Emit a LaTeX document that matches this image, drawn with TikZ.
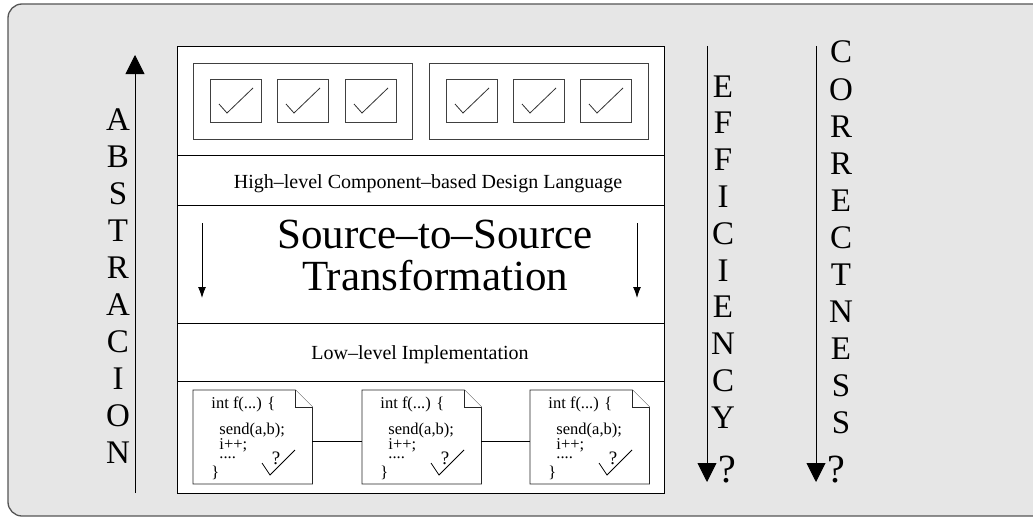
\documentclass[tikz,border=0pt]{standalone}
\usepackage{fontspec}
\setmainfont{Liberation Serif}
\usetikzlibrary{arrows.meta}
\definecolor{bgfill}{HTML}{E6E6E6}
\definecolor{framecol}{HTML}{555555}
\begin{document}
\begin{tikzpicture}[x=1pt,y=-1pt,line width=0.9pt,
  layer/.style={draw, fill=white, inner sep=0pt, anchor=north west, minimum width=487pt},
  grp/.style={draw=black!75, inner sep=0pt, anchor=north west, minimum width=219pt, minimum height=76pt},
  chk/.style={draw=black!75, inner sep=0pt, anchor=north west, minimum width=51pt, minimum height=43pt},
  docnode/.style={inner sep=0pt, anchor=north west, minimum width=118.5pt, minimum height=93pt},
  docline/.style={draw=black!85, fill=white, line width=0.8pt},
  codetxt/.style={inner sep=0pt, anchor=base west, font=\fontsize{16.5}{18}\selectfont},
  codeblock/.style={inner sep=0pt, anchor=north west, align=left, font=\fontsize{16.5}{13}\selectfont},
  letter/.style={inner sep=0pt, anchor=base, font=\fontsize{33}{37}\selectfont},
  qmark/.style={inner sep=0pt, anchor=base, font=\fontsize{40}{40}\selectfont},
  bigarrow/.style={line width=0.9pt, -{Triangle[width=19pt,length=19pt]}},
  smallarrow/.style={line width=0.9pt, -{Latex[width=8pt,length=11pt]}}
]
\useasboundingbox (0,0) rectangle (1033,519);
\clip (0,0) rectangle (1033,519);
\draw[framecol, fill=bgfill, line width=1.3pt, rounded corners=14pt] (8,4) rectangle (1060,516);

% layers of the main box
\node[layer, minimum height=109pt] (L1) at (177,46) {};
\node[layer, minimum height=50pt] (L2) at (177,155) {};
\node[layer, minimum height=118pt] (L3) at (177,205) {};
\node[layer, minimum height=58pt] (L4) at (177,323) {};
\node[layer, minimum height=112pt] (L5) at (177,381) {};

% component groups
\node[grp] (g1) at (193,63) {};
\node[grp] (g2) at (429,63) {};
\foreach \x [count=\i] in {210,277,345,446,513,580} {
  \node[chk] (c\i) at (\x,79) {};
  \draw[black!80, line width=0.8pt] ([shift={(9,25)}]c\i.north west) -- ++(8,9) -- ++(26,-25);
}

% texts
\node[inner sep=0pt, anchor=base, font=\fontsize{20}{22}\selectfont] (hl) at (428,188) {High--level Component--based Design Language};
\node[inner sep=0pt, anchor=base, font=\fontsize{43}{43}\selectfont] (s2s) at (435,248) {Source--to--Source};
\node[inner sep=0pt, anchor=base, font=\fontsize{43}{43}\selectfont] (tr) at (435,290) {Transformation};
\node[inner sep=0pt, anchor=base, font=\fontsize{20}{22}\selectfont] (ll) at (420,359) {Low--level Implementation};

% transformation arrows
\coordinate (la1) at (202,223); \coordinate (la2) at (202,298);
\coordinate (ra1) at (637,223); \coordinate (ra2) at (637,298);
\draw[smallarrow] (la1) -- (la2);
\draw[smallarrow] (ra1) -- (ra2);

% code documents
\foreach \ox [count=\i] in {193,362,530} {
  \node[docnode] (d\i) at (\ox,390) {};
  \draw[docline] (d\i.north west) -- ([xshift=-17pt]d\i.north east) -- ([yshift=-17pt]d\i.north east) -- (d\i.south east) -- (d\i.south west) -- cycle;
  \draw[docline] ([xshift=-17pt]d\i.north east) |- ([yshift=-17pt]d\i.north east);
  \node[codetxt] (t1\i) at (\ox+18,408) {int f(...) \{};
  \node[codeblock] (t2\i) at (\ox+26,422.5) {send(a,b);\\i++;\\[-4pt]....};
  \node[codetxt] (t5\i) at (\ox+18,477) {\}};
  \draw[line width=0.8pt] (\ox+69,463) -- (\ox+77,475) -- (\ox+102,450);
  \node[inner sep=0pt, anchor=base, font=\fontsize{19}{19}\selectfont] (q\i) at (\ox+83,464) {?};
}
\draw[line width=0.8pt] ([yshift=-4.5pt]d1.east) -- ([yshift=-4.5pt]d2.west);
\draw[line width=0.8pt] ([yshift=-4.5pt]d2.east) -- ([yshift=-4.5pt]d3.west);

% ABSTRACION
\coordinate (abot) at (135,493); \coordinate (atop) at (135,55);
\draw[bigarrow] (abot) -- (atop);
\foreach \l [count=\i from 0] in {A,B,S,T,R,A,C,I,O,N}
  \node[letter] (ab\i) at (118,130+37*\i) {\l};

% EFFICIENCY
\coordinate (etop) at (707,46); \coordinate (ebot) at (707,482);
\draw[bigarrow] (etop) -- (ebot);
\foreach \l [count=\i from 0] in {E,F,F,I,C,I,E,N,C,Y}
  \node[letter] (ef\i) at (723,97+36.8*\i) {\l};
\node[qmark] (eq) at (727,482) {?};

% CORRECTNESS
\coordinate (ctop) at (816,46); \coordinate (cbot) at (816,482);
\draw[bigarrow] (ctop) -- (cbot);
\foreach \l [count=\i from 0] in {C,O,R,R,E,C,T,N,E,S,S}
  \node[letter] (co\i) at (841,63+37*\i) {\l};
\node[qmark] (cq) at (836,482) {?};
\end{tikzpicture}
\end{document}
